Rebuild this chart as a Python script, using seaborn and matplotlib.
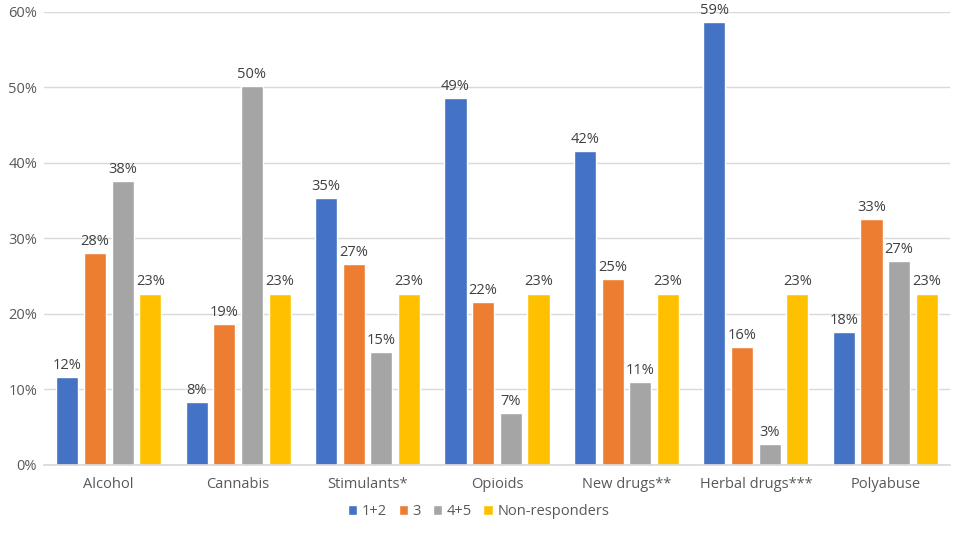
import matplotlib
matplotlib.use("Agg")
import matplotlib.pyplot as plt
import seaborn as sns
import pandas as pd
from matplotlib.ticker import PercentFormatter

categories = ["Alcohol", "Cannabis", "Stimulants*", "Opioids", "New drugs**", "Herbal drugs***", "Polyabuse"]
series_names = ["1+2", "3", "4+5", "Non-responders"]
v_12 = [11.6, 8.3, 35.3, 48.6, 41.6, 58.6, 17.6]
v_3 = [28.1, 18.6, 26.6, 21.6, 24.6, 15.6, 32.6]
v_45 = [37.6, 50.2, 15.0, 6.9, 11.0, 2.8, 27.0]
v_nr = [22.7, 22.7, 22.7, 22.7, 22.7, 22.7, 22.7]
colors = ["#4472C4", "#ED7D31", "#A5A5A5", "#FFC000"]

rows = []
for name, vals in zip(series_names, [v_12, v_3, v_45, v_nr]):
    for c, v in zip(categories, vals):
        rows.append({"Category": c, "Group": name, "Value": v / 100})
df = pd.DataFrame(rows)

sns.set_theme(style="white")
plt.rcParams['font.family'] = ['Open Sans', 'DejaVu Sans']

fig = plt.figure(figsize=(9.57, 5.33), dpi=100)
ax = fig.add_axes([0.046, 0.1276, 0.9467, 0.8504])

sns.barplot(data=df, x="Category", y="Value", hue="Group", order=categories,
            hue_order=series_names, palette=colors, width=0.855, gap=0.2,
            saturation=1, ax=ax, errorbar=None, legend=True)

ax.set_ylim(0, 0.6)
ax.set_xlim(-0.5, 6.5)
ax.set_yticks([0, 0.1, 0.2, 0.3, 0.4, 0.5, 0.6])
ax.yaxis.set_major_formatter(PercentFormatter(1.0, decimals=0))
ax.grid(axis="y", color="#D9D9D9", linewidth=1)
ax.set_axisbelow(True)
for s in ["top", "right", "left"]:
    ax.spines[s].set_visible(False)
ax.spines["bottom"].set_color("#D9D9D9")
ax.set_xlabel("")
ax.set_ylabel("")
ax.tick_params(axis="both", length=0, labelsize=10.5, colors="#595959")
ax.tick_params(axis="x", pad=9)
ax.tick_params(axis="y", pad=5)

for cont in ax.containers:
    ax.bar_label(cont, labels=[f"{b.get_height()*100:.0f}%" for b in cont],
                 padding=3, fontsize=10.5, color="#404040")

handles, labels = ax.get_legend_handles_labels()
ax.get_legend().remove()
fig.legend(handles, labels, loc="center", bbox_to_anchor=(0.5, 0.04), ncol=4,
           frameon=False, fontsize=10.5, handlelength=0.65, handleheight=0.65,
           handletextpad=0.3, columnspacing=0.8, labelcolor="#595959")

fig.savefig("out.png", dpi=100)
